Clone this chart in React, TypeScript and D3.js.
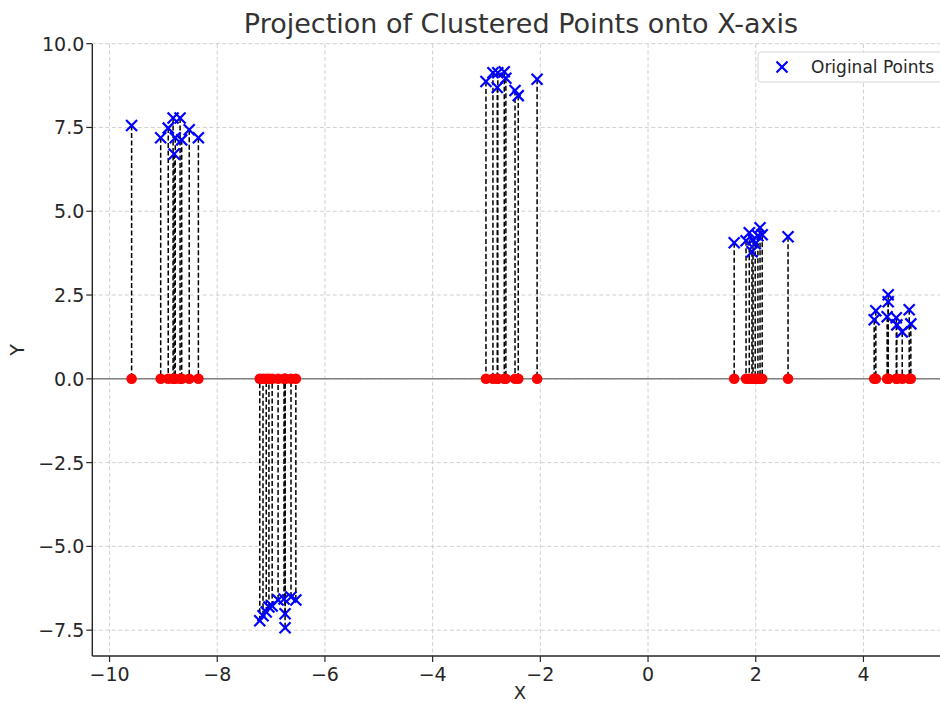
import React from "react";
import * as d3 from "d3";

// Clustered points (x, y); each is projected straight down/up onto y = 0.
const pointX: number[] = [
  -9.59, -9.05, -8.91, -8.82, -8.69, -8.78, -8.66, -8.8, -8.52, -8.35,
  -7.21, -7.15, -7.09, -7.04, -6.98, -6.87, -6.76, -6.74, -6.74, -6.63, -6.54,
  -3.01, -2.88, -2.8, -2.79, -2.67, -2.64, -2.47, -2.41, -2.06,
  1.6, 1.82, 1.88, 1.93, 1.95, 1.99, 2.04, 2.08, 2.12, 2.6,
  4.2, 4.23, 4.46, 4.46, 4.44, 4.61, 4.62, 4.72, 4.85, 4.88,
];
const pointY: number[] = [
  7.56, 7.19, 7.48, 7.78, 7.78, 7.19, 7.13, 6.71, 7.43, 7.19,
  -7.22, -7.07, -6.96, -6.81, -6.78, -6.6, -6.57, -7.01, -7.43, -6.51, -6.6,
  8.87, 9.13, 8.69, 9.13, 9.16, 8.97, 8.6, 8.45, 8.94,
  4.06, 4.12, 4.36, 3.79, 4.15, 4.03, 4.27, 4.51, 4.3, 4.24,
  1.76, 2.03, 2.51, 2.3, 1.85, 1.82, 1.61, 1.4, 2.06, 1.64,
];

const xTicks: number[] = [-10, -8, -6, -4, -2, 0, 2, 4];
const yTicks: number[] = [-7.5, -5, -2.5, 0, 2.5, 5, 7.5, 10];

const W = 940;
const H = 704;
const left = 92.3;
const top = 44;
const bottom = 656;
const rightFull = 949.6;

const fmtMinus = (s: string) => s.replace("-", "\u2212");

export default function App() {
  const x = d3.scaleLinear().domain([-10.32, 5.6]).range([left, rightFull]);
  const y = d3.scaleLinear().domain([-8.27, 9.99]).range([bottom, top]);
  const font = "DejaVu Sans, sans-serif";
  const txt = "#262626";
  const pts = pointX.map((px, i) => ({ x: px, y: pointY[i] }));
  const cross = 5.5;

  return (
    <svg
      width={W}
      height={H}
      style={{ position: "absolute", left: 0, top: 0, background: "#fff" }}
      fontFamily={font}
    >
      <defs>
        <clipPath id="plot">
          <rect x={left} y={top - 8} width={W - left} height={bottom - top + 8} />
        </clipPath>
      </defs>

      {/* grid */}
      <g stroke="#cccccc" strokeWidth={0.9} strokeDasharray="4,2.5">
        {xTicks.map((t) => (
          <line key={"gx" + t} x1={x(t)} x2={x(t)} y1={top} y2={bottom} />
        ))}
        {yTicks.map((t) => (
          <line key={"gy" + t} x1={left} x2={W} y1={y(t)} y2={y(t)} />
        ))}
      </g>

      <g clipPath="url(#plot)">
        {/* baseline y = 0 */}
        <line x1={left} x2={W} y1={y(0)} y2={y(0)} stroke="#808080" strokeWidth={1.6} />

        {/* projection lines */}
        <g stroke="#000" strokeWidth={1.5} strokeDasharray="5,2.5">
          {pts.map((p, i) => (
            <line key={"l" + i} x1={x(p.x)} x2={x(p.x)} y1={y(p.y)} y2={y(0)} />
          ))}
        </g>

        {/* projected points */}
        <g fill="#ff0000">
          {pts.map((p, i) => (
            <circle key={"c" + i} cx={x(p.x)} cy={y(0)} r={5.3} />
          ))}
        </g>

        {/* original points */}
        <g stroke="#0000ff" strokeWidth={2.2}>
          {pts.map((p, i) => {
            const cx = x(p.x);
            const cy = y(p.y);
            return (
              <g key={"p" + i}>
                <line x1={cx - cross} x2={cx + cross} y1={cy - cross} y2={cy + cross} />
                <line x1={cx - cross} x2={cx + cross} y1={cy + cross} y2={cy - cross} />
              </g>
            );
          })}
        </g>
      </g>

      {/* spines */}
      <line x1={left} x2={left} y1={top} y2={bottom} stroke="#262626" strokeWidth={1.4} />
      <line x1={left} x2={W} y1={bottom} y2={bottom} stroke="#262626" strokeWidth={1.4} />

      {/* x ticks */}
      {xTicks.map((t) => (
        <g key={"xt" + t}>
          <line x1={x(t)} x2={x(t)} y1={bottom} y2={bottom + 6} stroke="#262626" strokeWidth={1.2} />
          <text x={x(t)} y={bottom + 25} textAnchor="middle" fontSize={19} fill={txt}>
            {fmtMinus(String(t))}
          </text>
        </g>
      ))}

      {/* y ticks */}
      {yTicks.map((t) => (
        <g key={"yt" + t}>
          <line x1={left - 6} x2={left} y1={y(t)} y2={y(t)} stroke="#262626" strokeWidth={1.2} />
          <text x={left - 8} y={y(t) + 7} textAnchor="end" fontSize={19} fill={txt}>
            {fmtMinus(t.toFixed(1))}
          </text>
        </g>
      ))}

      {/* axis labels and title */}
      <text x={520} y={699} textAnchor="middle" fontSize={18} fill={txt}>
        X
      </text>
      <text
        transform={`translate(24,${(top + bottom) / 2}) rotate(-90)`}
        textAnchor="middle"
        fontSize={19}
        fill={txt}
      >
        Y
      </text>
      <text x={521} y={33} textAnchor="middle" fontSize={27} fill="#333">
        Projection of Clustered Points onto X-axis
      </text>

      {/* legend */}
      <g>
        <rect x={758} y={52} width={190} height={30} rx={3} fill="#fff" fillOpacity={0.85} stroke="#d6d6d6" />
        <g stroke="#0000ff" strokeWidth={2.2}>
          <line x1={782 - cross} x2={782 + cross} y1={67 - cross} y2={67 + cross} />
          <line x1={782 - cross} x2={782 + cross} y1={67 + cross} y2={67 - cross} />
        </g>
        <text x={811} y={73} fontSize={17} fill={txt}>
          Original Points
        </text>
      </g>
    </svg>
  );
}
